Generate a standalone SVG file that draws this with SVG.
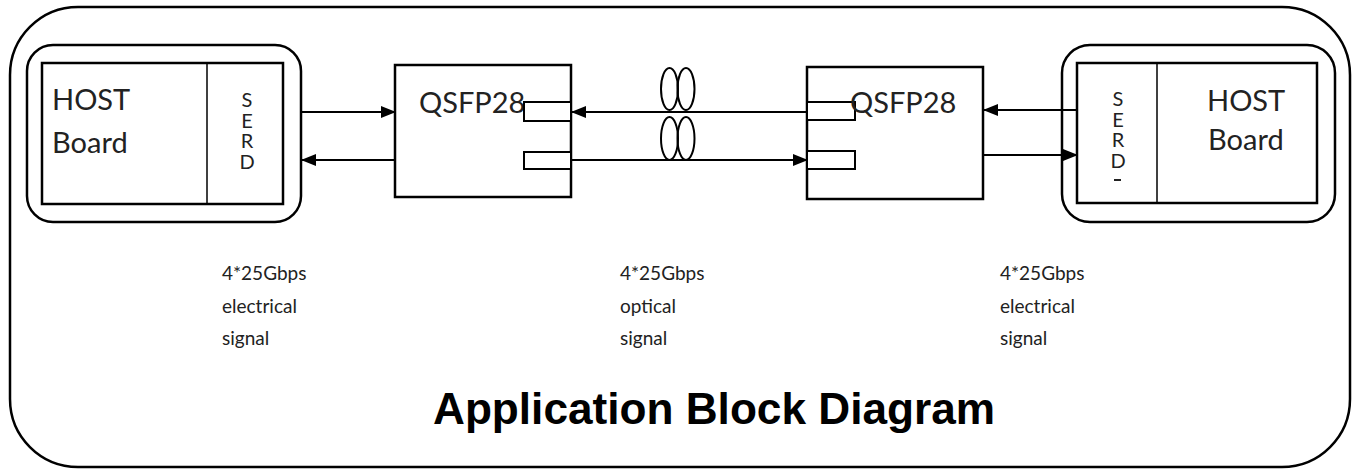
<svg xmlns="http://www.w3.org/2000/svg" width="1358" height="470" viewBox="0 0 1358 470">
<defs>
<marker id="ah" markerUnits="userSpaceOnUse" markerWidth="15" markerHeight="12" refX="14" refY="6" orient="auto">
<path d="M0,0 L15,6 L0,12 z" fill="#000"/>
</marker>
<style>
.box{fill:#fff;stroke:#000;stroke-width:2.5}
.thin{fill:none;stroke:#000;stroke-width:1.5}
.port{fill:#fff;stroke:#000;stroke-width:2}
.ln{fill:none;stroke:#000;stroke-width:2}
.big{font-family:Lato,"Liberation Sans",sans-serif;font-size:29px;fill:#222}
.serd{font-family:Lato,"Liberation Sans",sans-serif;font-size:20px;fill:#222;writing-mode:vertical-rl;text-orientation:upright;letter-spacing:-3.5px}
.lbl{font-family:Lato,"Liberation Sans",sans-serif;font-size:19px;fill:#222}
.title{font-family:"Liberation Sans",Arial,sans-serif;font-size:44px;font-weight:bold;fill:#000}
</style>
</defs>
<rect id="frame" x="10" y="7" width="1340" height="460" rx="68" ry="68" fill="#fff" stroke="#000" stroke-width="2.5"/>

<g id="host-left">
<rect class="box" x="27" y="45" width="274" height="177" rx="26" ry="26"/>
<rect class="box" x="42" y="63" width="241" height="141"/>
<line class="thin" x1="207" y1="63" x2="207" y2="204"/>
<text class="big" x="52" y="110">HOST</text>
<text class="big" x="52" y="153">Board</text>
<text class="serd" x="247" y="87">SERD</text>
</g>

<g id="qsfp-left">
<rect class="box" x="395" y="65" width="176" height="132"/>
<text class="big" x="419" y="113">QSFP28</text>
<rect class="port" x="524" y="102" width="47" height="19"/>
<rect class="port" x="524" y="152" width="47" height="17"/>
</g>

<g id="qsfp-right">
<rect class="box" x="807" y="67" width="176" height="132"/>
<rect class="port" x="807" y="102" width="48" height="18"/>
<rect class="port" x="807" y="151" width="48" height="18"/>
<text class="big" x="850" y="113">QSFP28</text>
</g>

<g id="host-right">
<rect class="box" x="1062" y="45" width="273" height="177" rx="28" ry="28"/>
<rect class="box" x="1077" y="63" width="240" height="140"/>
<line class="thin" x1="1157" y1="63" x2="1157" y2="203"/>
<text class="big" x="1207" y="111">HOST</text>
<text class="big" x="1208" y="150">Board</text>
<text class="serd" x="1118" y="86">SERD</text>
<rect x="1114" y="179" width="7" height="2" fill="#222"/>
</g>

<g id="connectors">
<line class="ln" x1="301" y1="112" x2="395" y2="112" marker-end="url(#ah)"/>
<line class="ln" x1="395" y1="160" x2="302" y2="160" marker-end="url(#ah)"/>
<line class="ln" x1="807" y1="112" x2="572" y2="112" marker-end="url(#ah)"/>
<line class="ln" x1="571" y1="160" x2="807" y2="160" marker-end="url(#ah)"/>
<line class="ln" x1="1077" y1="110" x2="984" y2="110" marker-end="url(#ah)"/>
<line class="ln" x1="983" y1="155" x2="1077" y2="155" marker-end="url(#ah)"/>
<g id="fiber-coils" fill="none" stroke="#000" stroke-width="2">
<ellipse cx="669.5" cy="89" rx="8.5" ry="21"/>
<ellipse cx="686" cy="89" rx="8.5" ry="21"/>
<ellipse cx="669.5" cy="138.5" rx="8.5" ry="21.5"/>
<ellipse cx="686" cy="138.5" rx="8.5" ry="21.5"/>
</g>
</g>

<g id="labels">
<text class="lbl" x="222" y="280">4*25Gbps</text>
<text class="lbl" x="222" y="313">electrical</text>
<text class="lbl" x="222" y="345">signal</text>
<text class="lbl" x="620" y="280">4*25Gbps</text>
<text class="lbl" x="620" y="313">optical</text>
<text class="lbl" x="620" y="345">signal</text>
<text class="lbl" x="1000" y="280">4*25Gbps</text>
<text class="lbl" x="1000" y="313">electrical</text>
<text class="lbl" x="1000" y="345">signal</text>
</g>

<text id="title" class="title" x="433" y="424" textLength="562" lengthAdjust="spacingAndGlyphs">Application Block Diagram</text>
</svg>
